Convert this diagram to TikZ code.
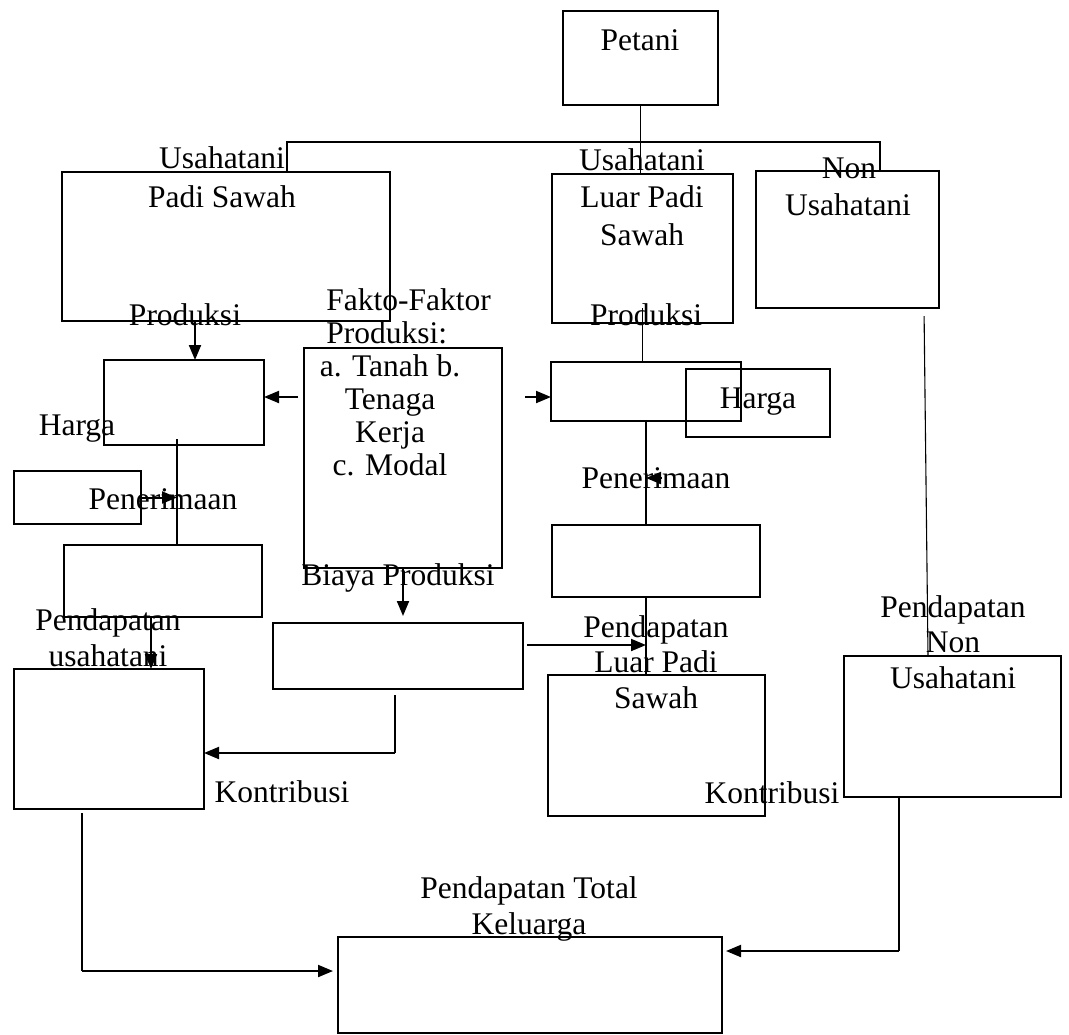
\documentclass[tikz,border=0pt]{standalone}
\usepackage{fontspec}
\setmainfont{Liberation Serif}
\usetikzlibrary{arrows.meta,positioning,fit,calc}
\newcommand{\lblfont}{\fontsize{15.75pt}{17.75pt}\selectfont}
\tikzset{
	box/.style={draw, line width=1pt, inner sep=0pt, outer sep=0pt},
	lbl/.style={inner sep=0pt, anchor=base, align=center, font=\lblfont},
	link/.style={line width=0.55pt},
	flow/.style={-{Triangle[length=7.5pt, width=6pt]}, line width=1pt}
}

\begin{document}
\begin{tikzpicture}[x=0.5pt, y=-0.5pt]
	\useasboundingbox (0,0) rectangle (1069,1034);
	\node[box, fit={(563,11) (718,105)}] (petani) {};
	\node[box, fit={(62,172) (390,321)}] (padi) {};
	\node[box, fit={(552,174) (733,323)}] (luar) {};
	\node[box, fit={(756,171) (939,308)}] (nonu) {};
	\node[box, fit={(104,360) (264,445)}] (prodL) {};
	\node[box, fit={(304,348) (502,568)}] (fakto) {};
	\node[box, fit={(551,362) (741,421)}] (prodR) {};
	\node[box, fit={(686,369) (830,437)}] (hargaR) {};
	\node[box, fit={(14,471) (141,524)}] (hargaL) {};
	\node[box, fit={(64,545) (262,617)}] (pendL) {};
	\node[box, fit={(552,525) (760,597)}] (pendR) {};
	\node[box, fit={(273,623) (523,689)}] (biaya) {};
	\node[box, fit={(14,669) (204,809)}] (pendUT) {};
	\node[box, fit={(548,675) (765,816)}] (pendLPS) {};
	\node[box, fit={(844,656) (1061,797)}] (pendN) {};
	\node[box, fit={(338,937) (722,1033)}] (total) {};

	\node[lbl] (tPetani) at (640,50) {Petani};
	\node[lbl] (tUsahaL) at (222,168) {Usahatani};
	\node[lbl] (tPadi) at (222,207) {Padi Sawah};
	\node[lbl] (tUsahaM) at (642,170) {Usahatani};
	\node[lbl, font=\fontsize{15.75pt}{19pt}\selectfont] (tLuar) at (642,245) {Luar Padi\\Sawah};
	\node[lbl] (tNon) at (849,178) {Non};
	\node[lbl] (tUsahaR) at (848,215) {Usahatani};
	\node[lbl] (tProdL) at (185,325) {Produksi};
	\node[lbl] (tProdR) at (646,325) {Produksi};
	\node[lbl, anchor=base west, align=left, font=\fontsize{15.75pt}{16.5pt}\selectfont] (tFakto) at (326,343) {Fakto-Faktor\\Produksi:};
	\node[lbl, font=\fontsize{15.75pt}{16.5pt}\selectfont] (tList) at (390,475) {a. Tanah b.\\Tenaga\\Kerja\\c. Modal};
	\node[lbl] (tHargaL) at (77,435) {Harga};
	\node[lbl] (tTerimaL) at (163,509) {Penerimaan};
	\node[lbl] (tHargaR) at (758,408) {Harga};
	\node[lbl] (tTerimaR) at (656,488) {Penerimaan};
	\node[lbl] (tBiaya) at (398,585) {Biaya Produksi};
	\node[lbl] (tPendUT) at (108,666) {Pendapatan\\usahatani};
	\node[lbl] (tPendLPS) at (656,708) {Pendapatan\\Luar Padi\\Sawah};
	\node[lbl] (tPendN) at (953,688) {Pendapatan\\Non\\Usahatani};
	\node[lbl] (tKonL) at (282,802) {Kontribusi};
	\node[lbl] (tKonR) at (772,803) {Kontribusi};
	\node[lbl] (tTotal) at (529,934) {Pendapatan Total\\Keluarga};

	\coordinate (brL) at (287,142);
	\coordinate (brR) at (880,142);
	\coordinate (xP) at (195,0);
	\coordinate (yA) at (0,397);
	\coordinate (xV) at (177,0);
	\coordinate (xU) at (151,0);
	\coordinate (yC) at (0,645);
	\coordinate (kL) at (395,753);
	\coordinate (pR) at (646,478);
	\coordinate (nA) at (924,0);
	\coordinate (nB) at (928,0);
	\coordinate (nC) at (899,951);
	\coordinate (tL) at (82,971);

	\draw[link] (petani.south) -- (petani.south |- luar.north);
	\draw[link] (brL |- padi.north) -- (brL) -- (brR) -- (brR |- nonu.north);
	\draw[flow] (padi.south -| xP) -- (prodL.north -| xP);
	\draw[flow, shorten <=3pt] (fakto.west |- yA) -- (prodL.east |- yA);
	\draw[flow, shorten <=11.5pt] (fakto.east |- yA) -- (prodR.west |- yA);
	\draw[link, shorten <=-3pt] (prodL.south -| xV) -- (pendL.north -| xV);
	\draw[flow] (hargaL.east) -- (hargaL.east -| xV);
	\draw[flow] (pendL.south -| xU) -- (pendUT.north -| xU);
	\draw[flow, shorten >=3.5pt] (fakto.south) -- (fakto.south |- biaya.north);
	\draw[flow, shorten <=2pt] (biaya.east |- yC) -- (prodR.south |- yC);
	\draw[link, shorten <=3pt] (biaya.south -| kL) -- (kL);
	\draw[flow] (kL) -- (pendUT.east |- kL);
	\draw[link, shorten <=-7.5pt] (luar.south) -- (luar.south |- prodR.north);
	\draw[link] (prodR.south) -- (prodR.south |- pendR.north);
	\draw[flow] (pR) ++(15,0) -- (pR);
	\draw[link] (pendR.south -| prodR.south) -- (pendLPS.north -| prodR.south);
	\draw[link, shorten <=4pt] (nonu.south -| nA) -- (pendN.north -| nB);
	\draw[link] (pendN.south -| nC) -- (nC);
	\draw[flow, shorten >=2pt] (nC) -- (total.east |- nC);
	\draw[link, shorten <=2pt] (pendUT.south -| tL) -- (tL);
	\draw[flow, shorten >=2.5pt] (tL) -- (total.west |- tL);
\end{tikzpicture}
\end{document}
